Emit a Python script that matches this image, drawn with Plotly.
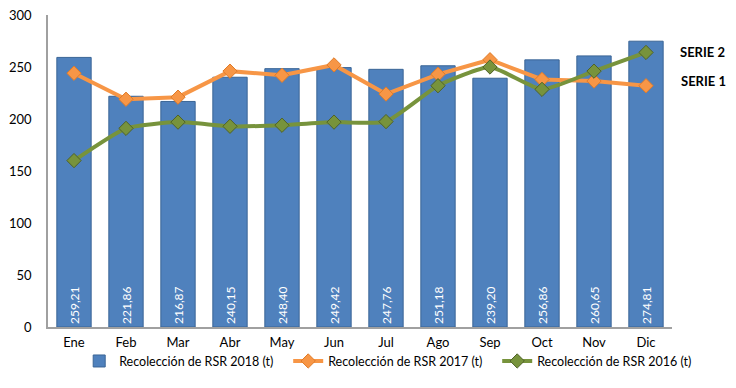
import plotly.graph_objects as go

months = ["Ene", "Feb", "Mar", "Abr", "May", "Jun", "Jul", "Ago", "Sep", "Oct", "Nov", "Dic"]
rsr_2018 = [259.21, 221.86, 216.87, 240.15, 248.40, 249.42, 247.76, 251.18, 239.20, 256.86, 260.65, 274.81]
rsr_2017 = [244, 219, 221, 246, 242, 252, 224, 243, 257, 238, 236.5, 232]
rsr_2016 = [160, 191, 197, 193, 194, 197, 197.5, 232, 250, 228.5, 246, 264]

labels_2018 = [f"{v:.2f}".replace(".", ",") for v in rsr_2018]

FONT = "Lato, 'Liberation Sans', sans-serif"

fig = go.Figure()
fig.add_trace(go.Bar(
    x=months, y=rsr_2018, name="Recolección de RSR 2018 (t)",
    marker=dict(color="#4F81BD", line=dict(color="#3A6596", width=1)),
    width=0.66,
    text=labels_2018, textposition="inside", insidetextanchor="start",
    textangle=-90, textfont=dict(color="white", size=12, family=FONT),
))
fig.add_trace(go.Scatter(
    x=months, y=rsr_2017, name="Recolección de RSR 2017 (t)", mode="lines+markers",
    line=dict(color="#F79646", width=4),
    marker=dict(symbol="diamond", size=11, color="#F79646", line=dict(color="#E07B28", width=1)),
))
fig.add_trace(go.Scatter(
    x=months, y=rsr_2016, name="Recolección de RSR 2016 (t)", mode="lines+markers",
    line=dict(color="#77933C", width=4, shape="spline", smoothing=0.5),
    marker=dict(symbol="diamond", size=11, color="#77933C", line=dict(color="#4F6228", width=1)),
))

fig.add_annotation(text="<b>SERIE 2</b>", xref="paper", yref="y", x=1.009, y=264,
                   xanchor="left", showarrow=False, font=dict(size=13, color="black", family=FONT))
fig.add_annotation(text="<b>SERIE 1</b>", xref="paper", yref="y", x=1.012, y=237,
                   xanchor="left", showarrow=False, font=dict(size=13, color="black", family=FONT))

fig.update_layout(
    width=736, height=388,
    margin=dict(l=48, r=64, t=15, b=61, autoexpand=False),
    paper_bgcolor="white", plot_bgcolor="white",
    font=dict(family=FONT, size=13, color="#000000"),
    showlegend=True,
    legend=dict(orientation="h", x=0.05, xanchor="left", y=-0.062, yanchor="top",
                font=dict(size=12.5, color="#000000"), traceorder="normal",
                itemwidth=30, entrywidth=164, entrywidthmode="pixels",
                tracegroupgap=0, bgcolor="rgba(0,0,0,0)"),
)
fig.update_xaxes(range=[-0.5, 11.5], showline=True, linecolor="#A0A0A0", linewidth=1.5, ticks="",
                 showgrid=False, tickfont=dict(size=13), ticklabelstandoff=3)
fig.update_yaxes(range=[0, 300], dtick=50, showline=True, linecolor="#A0A0A0", linewidth=1.5,
                 showgrid=False, zeroline=False, ticks="", tickfont=dict(size=13), ticklabelstandoff=12)

fig.write_html("out.html", config={"displayModeBar": False},
               post_script="document.body.style.margin='0';document.body.style.overflow='hidden';")
